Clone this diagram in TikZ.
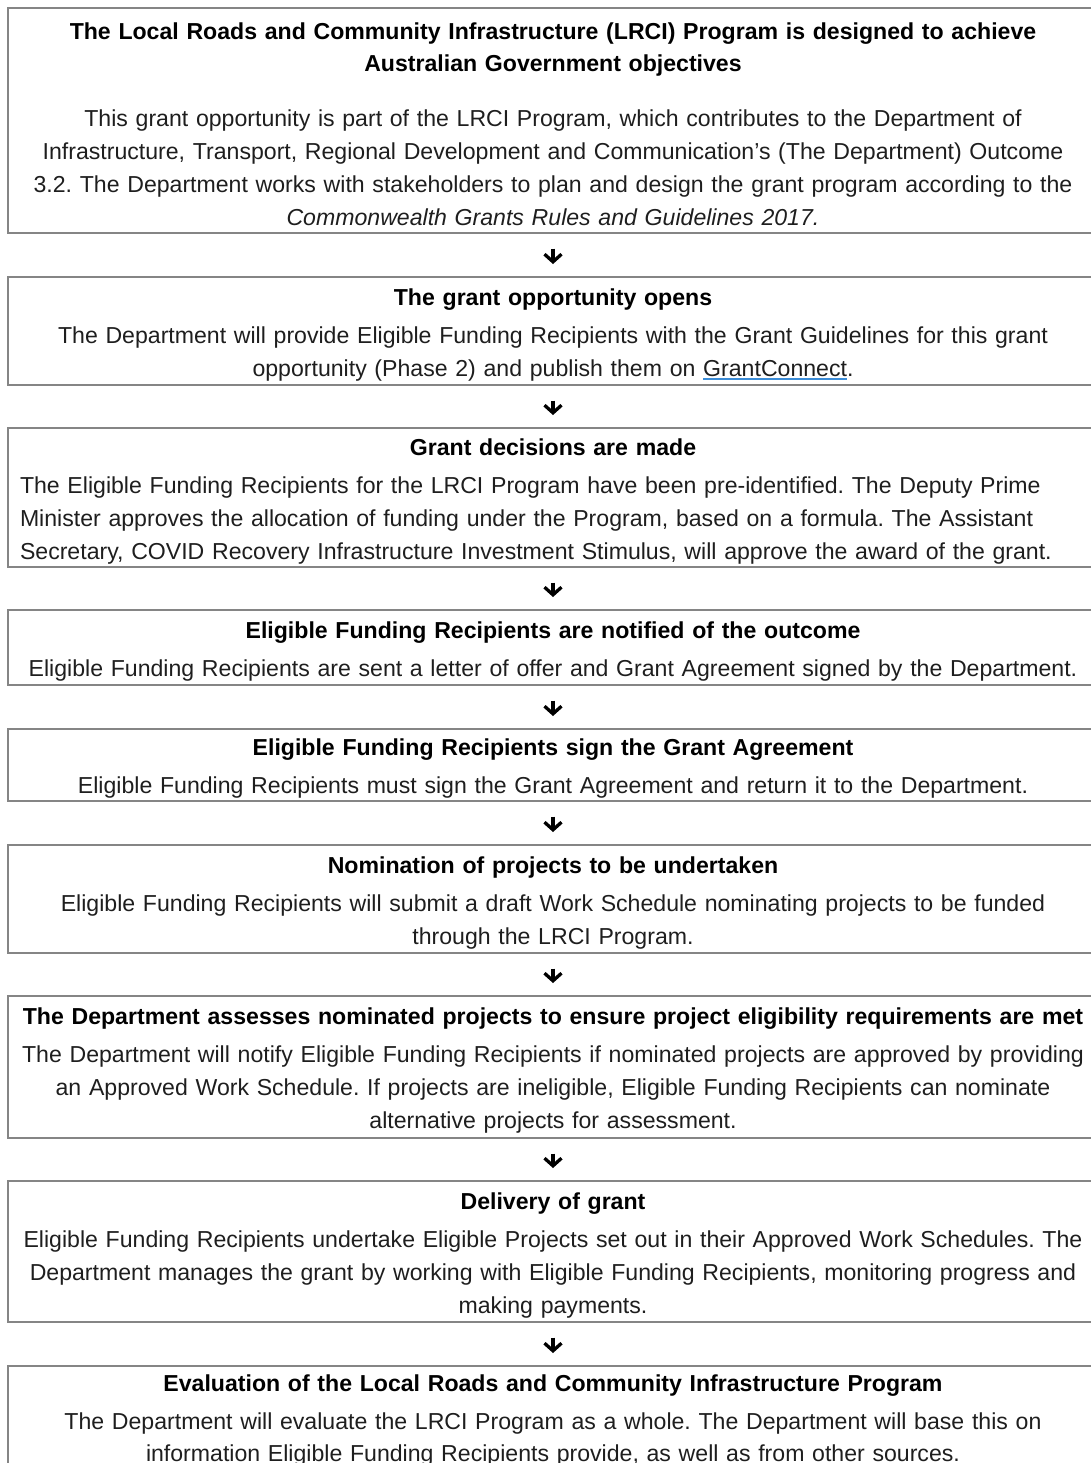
\documentclass[tikz,border=0pt]{standalone}
\usepackage{fontspec}
\setmainfont{Liberation Sans}
\usetikzlibrary{arrows.meta}
\definecolor{ulblue}{HTML}{3C8DD8}
\definecolor{boxline}{HTML}{858585}
\definecolor{bodytext}{HTML}{1E1E1E}
\newcommand\blueul[1]{\setbox0\hbox{#1}\rlap{\color{ulblue}\rule[-1.6pt]{\wd0}{0.6pt}}\box0}
\newcommand\lftln[1]{\makebox[\linewidth][l]{\hspace*{6pt}#1}}
\tikzset{
  stagebox/.style={draw=boxline, line width=0.75pt, inner sep=0pt,
    minimum width=545pt, text width=545pt, align=center, text=bodytext,
    font=\fontsize{11.55pt}{16.5pt}\selectfont\frenchspacing, anchor=north},
  flowarrow/.style={line width=1.65pt, black,
    -{Straight Barb[length=3.8pt,width=8.5pt]}, shorten <=7.5pt, shorten >=6pt},
}
\newcommand\ttl[1]{{\bfseries\color{black}#1}}
\newcommand\tfirst{\rule{0pt}{12.6pt}}
\begin{document}
\begin{tikzpicture}[x=0.5pt,y=-0.5pt]
\useasboundingbox (0,0) rectangle (1091,1463);
\node[stagebox, minimum height=112.5pt] (b1) at (553,7) {%
\tfirst\ttl{The Local Roads and Community Infrastructure (LRCI) Program is designed to achieve}\\[-0.5pt]
\ttl{Australian Government objectives}\\[11pt]
This grant opportunity is part of the LRCI Program, which contributes to the Department of\\
Infrastructure, Transport, Regional Development and Communication’s (The Department) Outcome\\
3.2. The Department works with stakeholders to plan and design the grant program according to the\\
\textit{Commonwealth Grants Rules and Guidelines 2017.}};
\node[stagebox, minimum height=54pt] (b2) at (553,276) {%
\tfirst\ttl{The grant opportunity opens}\\[2.5pt]
The Department will provide Eligible Funding Recipients with the Grant Guidelines for this grant\\
opportunity (Phase 2) and publish them on \blueul{GrantConnect}.};
\node[stagebox, minimum height=69.5pt] (b3) at (553,427) {%
\tfirst\ttl{Grant decisions are made}\\[2.5pt]
\lftln{The Eligible Funding Recipients for the LRCI Program have been pre-identified. The Deputy Prime}\\
\lftln{Minister approves the allocation of funding under the Program, based on a formula. The Assistant}\\
\lftln{Secretary, COVID Recovery Infrastructure Investment Stimulus, will approve the award of the grant.}};
\node[stagebox, minimum height=37.5pt] (b4) at (553,609) {%
\tfirst\ttl{Eligible Funding Recipients are notified of the outcome}\\[2.5pt]
Eligible Funding Recipients are sent a letter of offer and Grant Agreement signed by the Department.};
\node[stagebox, minimum height=36pt] (b5) at (553,728) {%
\tfirst\ttl{Eligible Funding Recipients sign the Grant Agreement}\\[2.5pt]
Eligible Funding Recipients must sign the Grant Agreement and return it to the Department.};
\node[stagebox, minimum height=54pt] (b6) at (553,844) {%
\tfirst\ttl{Nomination of projects to be undertaken}\\[2.5pt]
Eligible Funding Recipients will submit a draft Work Schedule nominating projects to be funded\\
through the LRCI Program.};
\node[stagebox, minimum height=71pt] (b7) at (553,995) {%
\tfirst\ttl{The Department assesses nominated projects to ensure project eligibility requirements are met}\\[2.5pt]
The Department will notify Eligible Funding Recipients if nominated projects are approved by providing\\
an Approved Work Schedule. If projects are ineligible, Eligible Funding Recipients can nominate\\
alternative projects for assessment.};
\node[stagebox, minimum height=70.5pt] (b8) at (553,1180) {%
\tfirst\ttl{Delivery of grant}\\[2.5pt]
Eligible Funding Recipients undertake Eligible Projects set out in their Approved Work Schedules. The\\
Department manages the grant by working with Eligible Funding Recipients, monitoring progress and\\
making payments.};
\node[stagebox, minimum height=51pt] (b9) at (553,1365) {%
\tfirst\ttl{Evaluation of the Local Roads and Community Infrastructure Program}\\[2.5pt]
The Department will evaluate the LRCI Program as a whole. The Department will base this on\\[-0.5pt]
information Eligible Funding Recipients provide, as well as from other sources.};
\foreach \a/\b in {b1/b2,b2/b3,b3/b4,b4/b5,b5/b6,b6/b7,b7/b8,b8/b9}
  \draw[flowarrow] (\a.south) -- (\b.north);
\end{tikzpicture}
\end{document}
